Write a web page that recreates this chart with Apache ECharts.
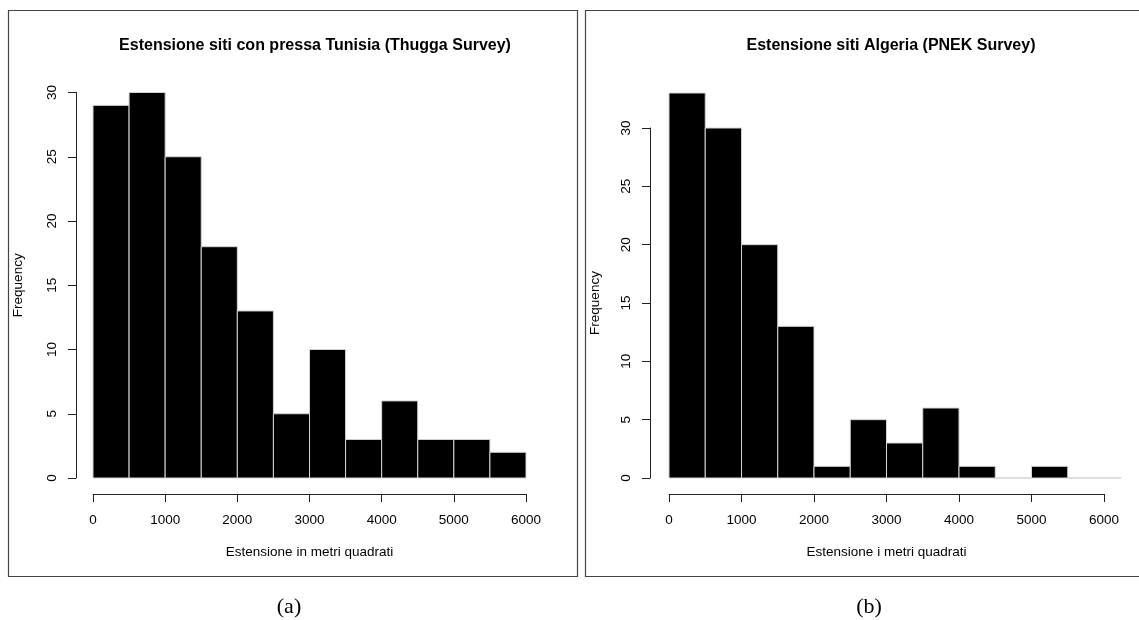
<!DOCTYPE html>
<html>
<head>
<meta charset="utf-8">
<script src="https://cdn.jsdelivr.net/npm/echarts@6/dist/echarts.min.js"></script>
<style>
html,body{margin:0;padding:0;background:#fff;}
#chart{width:1139px;height:620px;}
</style>
</head>
<body>
<div id="chart"></div>
<script>
// ---- data ----
const breaksTunisia = [0,500,1000,1500,2000,2500,3000,3500,4000,4500,5000,5500,6000];
const countsTunisia = [29,30,25,18,13,5,10,3,6,3,3,2];
const breaksAlgeria = [0,500,1000,1500,2000,2500,3000,3500,4000,4500,5000,5500,6000,6500];
const countsAlgeria = [33,30,20,13,1,5,3,6,1,0,1,0,0];
const xTicks = [0,1000,2000,3000,4000,5000,6000];
const yTicks = [0,5,10,15,20,25,30];
const titleTunisia = 'Estensione siti con pressa Tunisia (Thugga Survey)';
const titleAlgeria = 'Estensione siti Algeria (PNEK Survey)';
const xNameTunisia = 'Estensione in metri quadrati';
const xNameAlgeria = 'Estensione i metri quadrati';
const yName = 'Frequency';
const captions = ['(a)', '(b)'];

function bins(breaks, counts){
  return counts.map((c,i)=>[breaks[i], breaks[i+1], c]);
}

const FONT = '"Liberation Sans", Arial, Helvetica, sans-serif';

function renderBar(params, api){
  const cs = params.coordSys;
  const p0 = api.coord([api.value(0), 0]);
  const p1 = api.coord([api.value(1), api.value(2)]);
  const clipRight = cs.x + cs.width * 1.04;
  let x0 = p0[0], x1 = Math.min(p1[0], clipRight);
  return {
    type: 'rect',
    shape: {x: x0, y: p1[1], width: x1 - x0, height: p0[1] - p1[1]},
    style: {fill: '#000', stroke: '#d4d4d4', lineWidth: 1}
  };
}

function xAxisCfg(gridIndex, name){
  return {
    type: 'value', gridIndex, min: xTicks[0], max: xTicks[xTicks.length-1], interval: xTicks[1]-xTicks[0],
    offset: 16,
    name, nameLocation: 'middle', nameGap: 51,
    nameTextStyle: {fontFamily: FONT, fontSize: 13.5, color: '#000'},
    axisLine: {show: true, onZero: false, lineStyle: {color: '#222', width: 1}},
    axisTick: {show: true, length: 8, inside: false, lineStyle: {color: '#222'}},
    axisLabel: {fontFamily: FONT, fontSize: 13.5, color: '#000', margin: 19,
      formatter: v => String(v), showMinLabel: true, showMaxLabel: true},
    splitLine: {show: false}
  };
}
function yAxisCfg(gridIndex, offset, nameGap){
  return {
    type: 'value', gridIndex, min: yTicks[0], max: yTicks[yTicks.length-1], interval: yTicks[1]-yTicks[0],
    offset,
    name: yName, nameLocation: 'middle', nameGap, nameRotate: 90,
    nameTextStyle: {fontFamily: FONT, fontSize: 13.5, color: '#000'},
    axisLine: {show: true, onZero: false, lineStyle: {color: '#222', width: 1}},
    axisTick: {show: true, length: 8, inside: false, lineStyle: {color: '#222'}},
    axisLabel: {fontFamily: FONT, fontSize: 13.5, color: '#000', margin: 17, rotate: 90,
      formatter: v => String(v), showMinLabel: true, showMaxLabel: true},
    splitLine: {show: false}
  };
}

const chart = echarts.init(document.getElementById('chart'), null, {renderer: 'canvas'});
chart.setOption({
  animation: false,
  backgroundColor: '#fff',
  title: [
    {text: titleTunisia, left: 310, top: 32.5, textAlign: 'center',
     textStyle: {fontFamily: FONT, fontSize: 16, fontWeight: 'bold', color: '#000'}},
    {text: titleAlgeria, left: 886, top: 32.5, textAlign: 'center',
     textStyle: {fontFamily: FONT, fontSize: 16, fontWeight: 'bold', color: '#000'}}
  ],
  grid: [
    {left: 93, top: 92.5, width: 433, height: 385.5},
    {left: 669, top: 128, width: 435, height: 350}
  ],
  xAxis: [xAxisCfg(0, xNameTunisia), xAxisCfg(1, xNameAlgeria)],
  yAxis: [yAxisCfg(0, 17, 51), yAxisCfg(1, 19, 48)],
  series: [
    {type: 'custom', xAxisIndex: 0, yAxisIndex: 0, clip: false,
     renderItem: renderBar, encode: {x: [0,1], y: 2},
     data: bins(breaksTunisia, countsTunisia)},
    {type: 'custom', xAxisIndex: 1, yAxisIndex: 1, clip: false,
     renderItem: renderBar, encode: {x: [0,1], y: 2},
     data: bins(breaksAlgeria, countsAlgeria)}
  ],
  graphic: [
    {type: 'rect', shape: {x: 8.5, y: 10.5, width: 569, height: 566},
     style: {fill: 'none', stroke: '#444', lineWidth: 1.2}, silent: true},
    {type: 'rect', shape: {x: 585.5, y: 10.5, width: 600, height: 566},
     style: {fill: 'none', stroke: '#444', lineWidth: 1.2}, silent: true},
    {type: 'text', x: 289, y: 607,
     style: {text: captions[0], font: '22px "Liberation Serif", "DejaVu Serif", serif',
       fill: '#000', textAlign: 'center', textVerticalAlign: 'middle'}},
    {type: 'text', x: 869, y: 607,
     style: {text: captions[1], font: '22px "Liberation Serif", "DejaVu Serif", serif',
       fill: '#000', textAlign: 'center', textVerticalAlign: 'middle'}}
  ]
});
</script>
</body>
</html>
